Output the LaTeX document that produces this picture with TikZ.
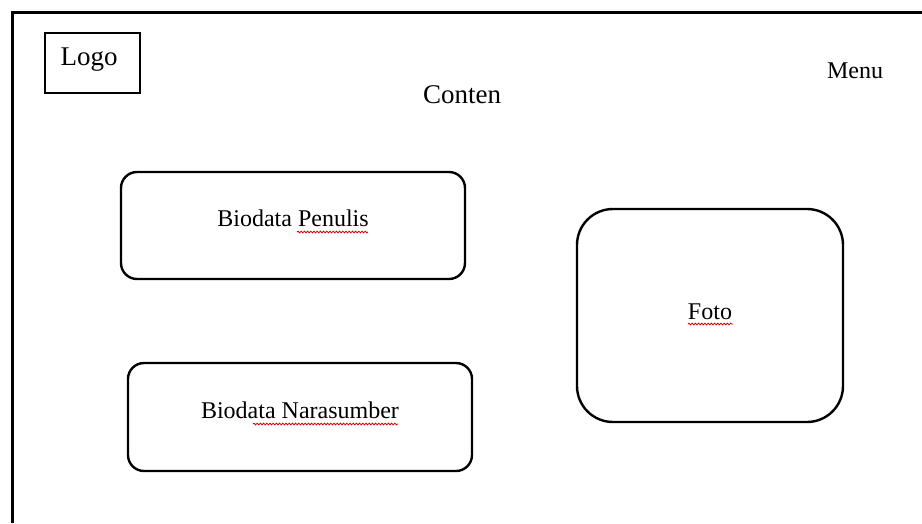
\documentclass[tikz,border=0pt]{standalone}
\usepackage{fontspec}
\setmainfont{Liberation Serif}
\usetikzlibrary{decorations.pathmorphing}
\begin{document}
\begin{tikzpicture}[x=1pt,y=-1pt,
  panel/.style={draw=black,line width=2.4pt,rounded corners=#1,inner sep=0pt},
  panel/.default=16pt,
  label/.style={font=\fontsize{24}{28}\selectfont,inner sep=0pt,anchor=base},
  biglabel/.style={font=\fontsize{27}{31}\selectfont,inner sep=0pt,anchor=base},
  spell/.style={draw=red!85!black,line width=0.8pt,decorate,
    decoration={snake,segment length=3.2pt,amplitude=0.9pt}}]
  % page area
  \useasboundingbox (0,0) rectangle (922,523);
  \fill[white] (0,0) rectangle (922,523);
  % outer frame: left and top edges
  \coordinate (frameBL) at (12,523);
  \coordinate (frameTL) at (12,12);
  \coordinate (frameTR) at (922,12);
  \draw[line width=3pt] (frameBL) -- (frameTL) -- (frameTR);

  % logo
  \draw[line width=1.1pt] (45,33) rectangle (140,93);
  \node[biglabel] (logo) at (89,65) {Logo};
  % heading and menu
  \node[biglabel] (conten) at (462,103) {Conten};
  \node[label] (menu) at (855,78) {Menu};

  % content panels
  \draw[panel] (121,172) rectangle (465,279);
  \node[label] (penulis) at (293,226) {Biodata Penulis};
  \draw[panel] (128,363) rectangle (472,471);
  \node[label] (narasumber) at (300,418) {Biodata Narasumber};
  \draw[panel=36pt] (577,209) rectangle (843,422);
  \node[label] (foto) at (710,319) {Foto};

  % spell-check marks
  \draw[spell] (297,232) -- (368,232);
  \draw[spell] (253,424) -- (398,424);
  \draw[spell] (688,324) -- (733,324);
\end{tikzpicture}
\end{document}
